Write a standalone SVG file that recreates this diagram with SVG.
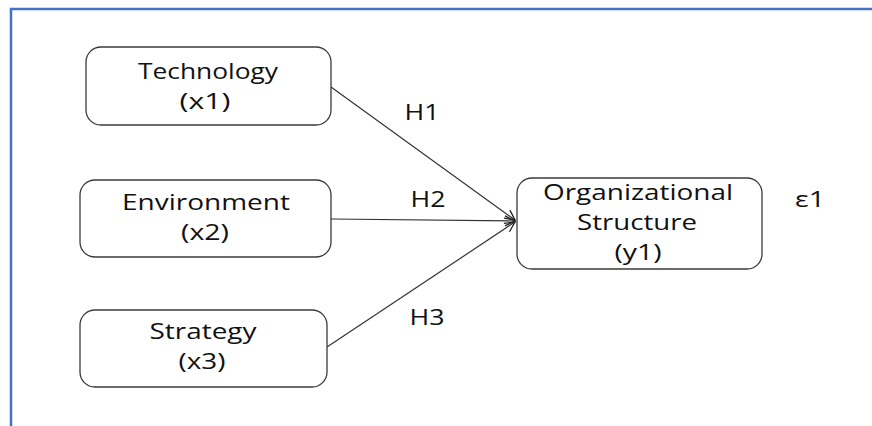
<svg xmlns="http://www.w3.org/2000/svg" width="872" height="426" viewBox="0 0 872 426">
<style>
.box{fill:#fff;stroke:#3a3a3a;stroke-width:1.3}
.t{font-family:"Open Sans","DejaVu Sans",sans-serif;font-size:21.5px;fill:#111;text-anchor:middle}
.c{stroke:#333;stroke-width:1.2;fill:none}
</style>
<defs>
<marker id="arr" markerWidth="12" markerHeight="12" refX="11" refY="6" orient="auto" markerUnits="userSpaceOnUse">
<path d="M1,1 L11,6 L1,11" fill="none" stroke="#222" stroke-width="1.3"/>
</marker>
</defs>
<rect width="872" height="426" fill="#fff"/>
<path d="M11,426 V9 H872" fill="none" stroke="#4472c4" stroke-width="2.5"/>
<g id="connectors">
<line class="c" x1="331" y1="87" x2="515" y2="220" marker-end="url(#arr)"/>
<line class="c" x1="331" y1="219" x2="515" y2="221" marker-end="url(#arr)"/>
<line class="c" x1="327" y1="347" x2="515" y2="222" marker-end="url(#arr)"/>
<text class="t" x="422" y="120" textLength="35" lengthAdjust="spacingAndGlyphs">H1</text>
<text class="t" x="428" y="207" textLength="35" lengthAdjust="spacingAndGlyphs">H2</text>
<text class="t" x="427" y="325" textLength="35" lengthAdjust="spacingAndGlyphs">H3</text>
</g>
<g id="technology">
<rect class="box" x="86" y="47" width="245" height="78" rx="15"/>
<text class="t" x="208" y="79" textLength="140" lengthAdjust="spacingAndGlyphs">Technology</text>
<text class="t" x="205" y="109" textLength="51" lengthAdjust="spacingAndGlyphs">(x1)</text>
</g>
<g id="environment">
<rect class="box" x="80" y="180" width="251" height="77" rx="15"/>
<text class="t" x="206" y="210" textLength="168" lengthAdjust="spacingAndGlyphs">Environment</text>
<text class="t" x="205" y="240" textLength="48" lengthAdjust="spacingAndGlyphs">(x2)</text>
</g>
<g id="strategy">
<rect class="box" x="80" y="310" width="247" height="77" rx="15"/>
<text class="t" x="203" y="339" textLength="107" lengthAdjust="spacingAndGlyphs">Strategy</text>
<text class="t" x="202" y="369" textLength="47" lengthAdjust="spacingAndGlyphs">(x3)</text>
</g>
<g id="org">
<rect class="box" x="517" y="178" width="245" height="91" rx="15"/>
<text class="t" x="638" y="200" textLength="190" lengthAdjust="spacingAndGlyphs">Organizational</text>
<text class="t" x="637" y="230" textLength="120" lengthAdjust="spacingAndGlyphs">Structure</text>
<text class="t" x="638" y="260" textLength="47" lengthAdjust="spacingAndGlyphs">(y1)</text>
</g>
<g id="error">
<text class="t" x="810" y="207" textLength="30" lengthAdjust="spacingAndGlyphs">ε1</text>
</g>
</svg>
